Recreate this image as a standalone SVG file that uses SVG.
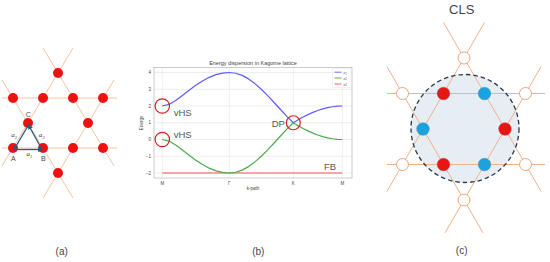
<svg xmlns="http://www.w3.org/2000/svg" width="550" height="262" viewBox="0 0 550 262">
<defs>
<style>
.lat{stroke:#f7c3a2;stroke-width:1;fill:none}
.latc{stroke:#f2b08a;stroke-width:1;fill:none}
.rn{fill:#ee1111}
.rc{fill:#e81515;stroke:#c04040;stroke-width:0.5}
.bc{fill:#1aa3e0;stroke:#5a8aa8;stroke-width:0.5}
.wc{fill:#ffffff;stroke:#f0a47a;stroke-width:1}
.lbl{font-family:"Liberation Sans",Arial,sans-serif;fill:#444}
.tick{font-family:"Liberation Sans",Arial,sans-serif;font-size:4.5px;fill:#444}
.grid{stroke:#e3e3e3;stroke-width:0.6}
.band{fill:none;stroke-width:1.2;stroke-linejoin:round}
.ring{fill:none;stroke:#d42020;stroke-width:1.2}
.ann{font-family:"Liberation Sans",Arial,sans-serif;font-size:9.5px;fill:#555}
</style>
<marker id="arr" viewBox="0 0 6 6" refX="5" refY="3" markerWidth="4" markerHeight="4" orient="auto">
<path d="M0,0 L6,3 L0,6 z" fill="#1f5f80"/>
</marker>
</defs>
<rect width="550" height="262" fill="#ffffff"/>

<!-- Panel (a) -->
<g id="panel-a">
<g id="a-lines">
<line class="lat" x1="2" y1="98" x2="117" y2="98"/>
<line class="lat" x1="2" y1="148" x2="117" y2="148"/>
<line class="lat" x1="43" y1="48" x2="114" y2="166"/>
<line class="lat" x1="73" y1="48" x2="2" y2="166"/>
<line class="lat" x1="2" y1="80" x2="73" y2="198"/>
<line class="lat" x1="114" y1="80" x2="43" y2="198"/>
</g>
<g id="a-nodes">
<circle class="rn" cx="58" cy="73" r="5"/>
<circle class="rn" cx="13" cy="98" r="5"/>
<circle class="rn" cx="43" cy="98" r="5"/>
<circle class="rn" cx="73" cy="98" r="5"/>
<circle class="rn" cx="103" cy="98" r="5"/>
<circle class="rn" cx="28" cy="123" r="5"/>
<circle class="rn" cx="88" cy="123" r="5"/>
<circle class="rn" cx="13" cy="148" r="5"/>
<circle class="rn" cx="43" cy="148" r="5"/>
<circle class="rn" cx="73" cy="148" r="5"/>
<circle class="rn" cx="103" cy="148" r="5"/>
<circle class="rn" cx="58" cy="173" r="5"/>
</g>
<g id="a-triangle" stroke="#1f5f80" stroke-width="1.3" fill="none">
<line x1="14" y1="149.5" x2="42" y2="149.5" marker-end="url(#arr)"/>
<line x1="42" y1="149.5" x2="28.5" y2="125" marker-end="url(#arr)"/>
<line x1="28.5" y1="125" x2="14" y2="149.5" marker-end="url(#arr)"/>
</g>
<g id="a-labels" class="lbl" font-size="7" text-anchor="middle">
<text x="28.3" y="117">C</text>
<text x="13.3" y="161">A</text>
<text x="43.3" y="161">B</text>
<text x="14" y="137" font-style="italic" font-family="Liberation Serif,serif">a<tspan font-size="4.5" dy="1.5">2</tspan></text>
<text x="41.7" y="137" font-style="italic" font-family="Liberation Serif,serif">a<tspan font-size="4.5" dy="1.5">3</tspan></text>
<text x="29.3" y="156" font-style="italic" font-family="Liberation Serif,serif">a<tspan font-size="4.5" dy="1.5">1</tspan></text>
</g>
<text class="lbl" x="61.7" y="255" font-size="10" text-anchor="middle">(a)</text>
</g>

<!-- Panel (b) -->
<g id="panel-b">
<text class="lbl" x="253" y="64.5" font-size="5.5" text-anchor="middle" fill="#333">Energy dispersion in Kagome lattice</text>
<g id="b-grid">
<line class="grid" x1="162.3" y1="67.5" x2="162.3" y2="178"/>
<line class="grid" x1="229.3" y1="67.5" x2="229.3" y2="178"/>
<line class="grid" x1="293.3" y1="67.5" x2="293.3" y2="178"/>
<line class="grid" x1="342.3" y1="67.5" x2="342.3" y2="178"/>
<line class="grid" x1="154" y1="72.5" x2="352" y2="72.5"/>
<line class="grid" x1="154" y1="89.25" x2="352" y2="89.25"/>
<line class="grid" x1="154" y1="106" x2="352" y2="106"/>
<line class="grid" x1="154" y1="122.75" x2="352" y2="122.75"/>
<line class="grid" x1="154" y1="139.5" x2="352" y2="139.5"/>
<line class="grid" x1="154" y1="156.25" x2="352" y2="156.25"/>
<line class="grid" x1="154" y1="173" x2="352" y2="173"/>
</g>
<rect x="154" y="67.5" width="198" height="110.5" fill="none" stroke="#aaaaaa" stroke-width="0.6"/>
<g id="b-ticks" class="tick" text-anchor="end">
<text x="151" y="74">4</text>
<text x="151" y="90.8">3</text>
<text x="151" y="107.5">2</text>
<text x="151" y="124.3">1</text>
<text x="151" y="141">0</text>
<text x="151" y="157.8">−1</text>
<text x="151" y="174.5">−2</text>
</g>
<g class="tick" text-anchor="middle">
<text x="162.3" y="184.5">M</text>
<text x="229.3" y="184.5">Γ</text>
<text x="293.3" y="184.5">K</text>
<text x="342.3" y="184.5">M</text>
<text x="253" y="190">k-path</text>
<text x="0" y="0" transform="translate(143,123) rotate(-90)">Energy</text>
</g>
<g id="b-bands">
<line x1="162.3" y1="173" x2="342.3" y2="173" stroke="#ff5050" stroke-width="1.2"/>
<polyline class="band" stroke="#5c5cff" points="162.3,106 169,104.43 175.7,100.5 182.4,95.49 189.1,90.25 195.8,85.3 202.5,80.92 209.2,77.34 215.9,74.68 222.6,73.05 229.3,72.5 235.7,73.23 242.1,75.4 248.5,78.9 254.9,83.58 261.3,89.25 267.7,95.65 274.1,102.5 280.5,109.5 286.9,116.35 293.3,122.75 298.2,119.81 303.1,117.08 308,114.6 312.9,112.4 317.8,110.49 322.7,108.89 327.6,107.64 332.5,106.73 337.4,106.18 342.3,106"/>
<polyline class="band" stroke="#4caa4c" points="162.3,139.5 169,141.07 175.7,145 182.4,150.01 189.1,155.25 195.8,160.2 202.5,164.58 209.2,168.16 215.9,170.82 222.6,172.45 229.3,173 235.7,172.27 242.1,170.1 248.5,166.6 254.9,161.92 261.3,156.25 267.7,149.85 274.1,143 280.5,136 286.9,129.15 293.3,122.75 298.2,125.69 303.1,128.42 308,130.9 312.9,133.1 317.8,135.01 322.7,136.61 327.6,137.86 332.5,138.77 337.4,139.32 342.3,139.5"/>
</g>
<g id="b-legend">
<rect x="332.5" y="68.5" width="18.5" height="19" rx="1" fill="#ffffff" fill-opacity="0.85" stroke="#dddddd" stroke-width="0.4"/>
<line x1="334.5" y1="72.2" x2="341.5" y2="72.2" stroke="#5c5cff" stroke-width="0.9"/>
<line x1="334.5" y1="78" x2="341.5" y2="78" stroke="#4caa4c" stroke-width="0.9"/>
<line x1="334.5" y1="84" x2="341.5" y2="84" stroke="#ff5050" stroke-width="0.9"/>
<g font-family="Liberation Serif,serif" font-style="italic" font-size="4.5" fill="#333">
<text x="343.5" y="73.8">ε<tspan font-size="3" dy="0.8">1</tspan></text>
<text x="343.5" y="79.6">ε<tspan font-size="3" dy="0.8">2</tspan></text>
<text x="343.5" y="85.6">ε<tspan font-size="3" dy="0.8">3</tspan></text>
</g>
</g>
<g id="b-marks">
<circle class="ring" cx="162.3" cy="106" r="7.2"/>
<circle class="ring" cx="162.3" cy="139.5" r="7.2"/>
<circle class="ring" cx="293.3" cy="122.75" r="7"/>
<text class="ann" x="182.7" y="115.8" text-anchor="middle">vHS</text>
<text class="ann" x="182.7" y="137.8" text-anchor="middle">vHS</text>
<text class="ann" x="278.3" y="126.8" text-anchor="middle">DP</text>
<text class="ann" x="330" y="169.5" text-anchor="middle">FB</text>
</g>
<text class="lbl" x="258.3" y="255" font-size="10" text-anchor="middle">(b)</text>
</g>

<!-- Panel (c) -->
<g id="panel-c">
<text class="lbl" x="461.7" y="14" font-size="13" text-anchor="middle" fill="#333">CLS</text>
<circle cx="465" cy="128.5" r="54" fill="#e7eef3"/>
<g id="c-lines">
<line class="latc" x1="387" y1="93.5" x2="545" y2="93.5"/>
<line class="latc" x1="387" y1="164.5" x2="545" y2="164.5"/>
<line class="latc" x1="484.5" y1="22.5" x2="387" y2="191.3"/>
<line class="latc" x1="443.5" y1="22.5" x2="541" y2="191.3"/>
<line class="latc" x1="541" y1="66.7" x2="445" y2="232.9"/>
<line class="latc" x1="387" y1="66.7" x2="483" y2="232.9"/>
</g>
<circle cx="465" cy="128.5" r="54" fill="none" stroke="#2a3848" stroke-width="1.3" stroke-dasharray="4.5,3"/>
<g id="c-nodes">
<circle class="wc" cx="464" cy="58" r="6"/>
<circle class="wc" cx="402.5" cy="93.5" r="6"/>
<circle class="wc" cx="525.5" cy="93.5" r="6"/>
<circle class="wc" cx="402.5" cy="164.5" r="6"/>
<circle class="wc" cx="525.5" cy="164.5" r="6"/>
<circle class="wc" cx="464" cy="200" r="6"/>
<circle class="rc" cx="443.5" cy="93.5" r="6.3"/>
<circle class="bc" cx="484.5" cy="93.5" r="6.3"/>
<circle class="bc" cx="423" cy="129" r="6.3"/>
<circle class="rc" cx="505" cy="129" r="6.3"/>
<circle class="rc" cx="443.5" cy="164.5" r="6.3"/>
<circle class="bc" cx="484.5" cy="164.5" r="6.3"/>
</g>
<text class="lbl" x="461.7" y="253.5" font-size="10" text-anchor="middle">(c)</text>
</g>
</svg>
